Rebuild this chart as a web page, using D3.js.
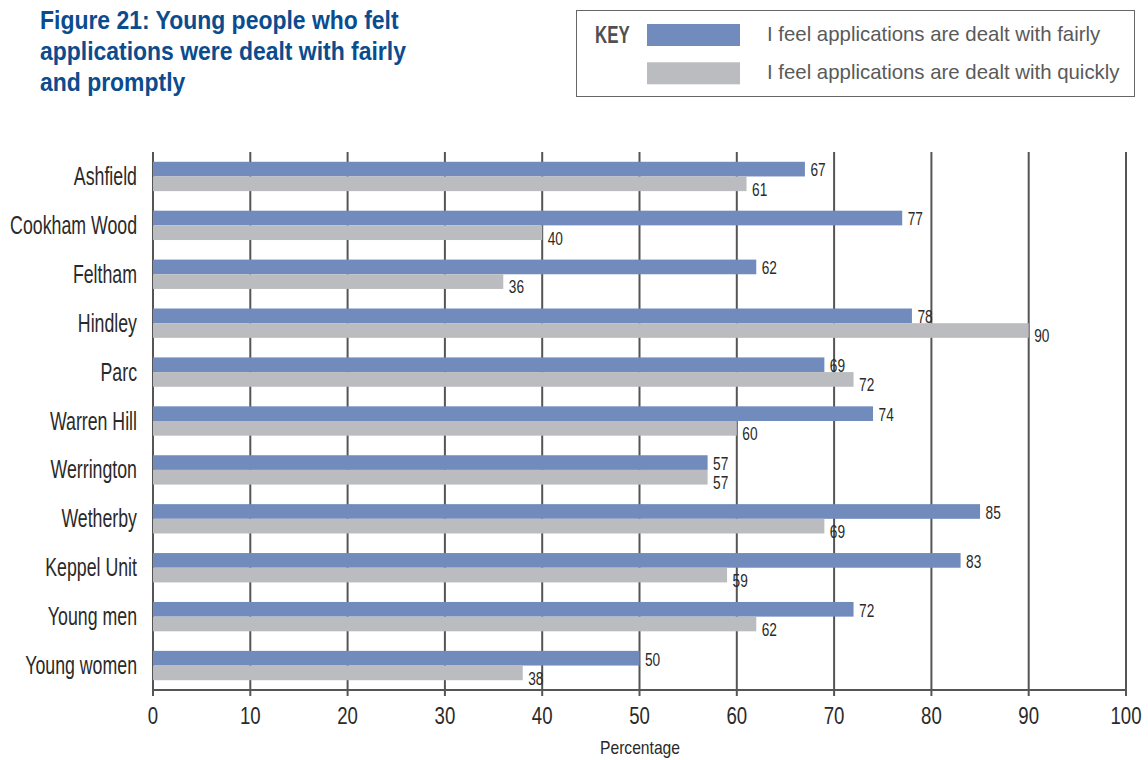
<!DOCTYPE html>
<html><head><meta charset="utf-8">
<script src="https://cdn.jsdelivr.net/npm/d3@7"></script>
<style>body{margin:0;background:#fff;} svg{display:block;}</style>
</head><body>
<svg id="chart" width="1148" height="760"></svg>
<script>
const categories = ["Ashfield","Cookham Wood","Feltham","Hindley","Parc","Warren Hill","Werrington","Wetherby","Keppel Unit","Young men","Young women"];
const fairly = [67,77,62,78,69,74,57,85,83,72,50];
const quickly = [61,40,36,90,72,60,57,69,59,62,38];
const seriesNames = ["I feel applications are dealt with fairly","I feel applications are dealt with quickly"];
const xTicks = [0,10,20,30,40,50,60,70,80,90,100];
const titleLines = ["Figure 21: Young people who felt","applications were dealt with fairly","and promptly"];
const keyLabel = "KEY";
const xTitle = "Percentage";

const colors = ["#728bbd","#bbbcc0"];
const font = "'Liberation Sans',Arial,sans-serif";
const svg = d3.select("#chart");
const mLeft = 153, mRight = 1126, mTop = 152, mBottom = 690;

const x = d3.scaleLinear().domain([0,100]).range([mLeft,mRight]);
const y = d3.scaleBand().domain(categories).range([mTop,mBottom]).paddingInner(0.4).paddingOuter(0.2);
const y1 = d3.scaleBand().domain([0,1]).range([0,y.bandwidth()]);

// condensed text helper: positions via transform, horizontal squeeze
function cond(sel, fx, fy, sx){
  return sel.attr("x",0).attr("y",0)
    .attr("transform",(d,i)=>`translate(${fx(d,i)},${fy(d,i)}) scale(${sx},1)`);
}

// title
cond(svg.append("g").selectAll("text").data(titleLines).join("text"),
  ()=>40,(d,i)=>28.5+i*31.3,0.9)
  .attr("font-family",font).attr("font-weight","bold").attr("font-size",25.5)
  .attr("fill","#0b4c8e").text(d=>d);

// legend
const lg = svg.append("g");
lg.append("rect").attr("x",576.5).attr("y",10.5).attr("width",558).attr("height",86)
  .attr("fill","none").attr("stroke","#666").attr("stroke-width",1);
cond(lg.append("text").datum(keyLabel),()=>595,()=>43.3,0.69)
  .attr("font-family",font).attr("font-weight","bold")
  .attr("font-size",24.5).attr("fill","#505050").text(d=>d);
seriesNames.forEach((s,i)=>{
  lg.append("rect").attr("x",647).attr("y",24+i*38.3).attr("width",93).attr("height",22).attr("fill",colors[i]);
  lg.append("text").attr("x",767).attr("y",41+i*38.3).attr("font-family",font)
    .attr("font-size",20.4).attr("fill","#5a5a5a").text(s);
});

// grid
svg.append("g").selectAll("line").data(xTicks).join("line")
  .attr("x1",d=>x(d)).attr("x2",d=>x(d)).attr("y1",mTop).attr("y2",mBottom+6)
  .attr("stroke","#555").attr("stroke-width",2);

// bars
const gg = svg.append("g").selectAll("g").data(categories).join("g")
  .attr("transform",d=>`translate(0,${y(d)})`);
[fairly,quickly].forEach((arr,si)=>{
  gg.append("rect").attr("x",x(0)).attr("y",y1(si))
    .attr("width",(d,i)=>x(arr[i])-x(0)).attr("height",y1.bandwidth())
    .attr("fill",colors[si]);
  cond(gg.append("text"),(d,i)=>x(arr[i])+5.5,
    ()=>y1(si)+y1.bandwidth()+(si===0?0:4.5),0.74)
    .attr("font-family",font).attr("font-size",18.5).attr("fill","#2a2a2a")
    .text((d,i)=>arr[i]);
});

// x axis line
svg.append("line").attr("x1",mLeft-1).attr("x2",mRight+1).attr("y1",mBottom).attr("y2",mBottom)
  .attr("stroke","#555").attr("stroke-width",2);
cond(svg.append("g").selectAll("text").data(xTicks).join("text"),d=>x(d),()=>724,0.76)
  .attr("text-anchor","middle")
  .attr("font-family",font).attr("font-size",24.5).attr("fill","#2a2a2a").text(d=>d);
cond(svg.append("text").datum(xTitle),()=>640,()=>754.3,0.86)
  .attr("text-anchor","middle")
  .attr("font-family",font).attr("font-size",18.2).attr("fill","#2a2a2a").text(d=>d);

// y labels
cond(svg.append("g").selectAll("text").data(categories).join("text"),
  ()=>137,d=>y(d)+y.bandwidth()/2+8.5,0.71)
  .attr("text-anchor","end")
  .attr("font-family",font).attr("font-size",25).attr("fill","#2a2a2a").text(d=>d);
</script>
</body></html>
